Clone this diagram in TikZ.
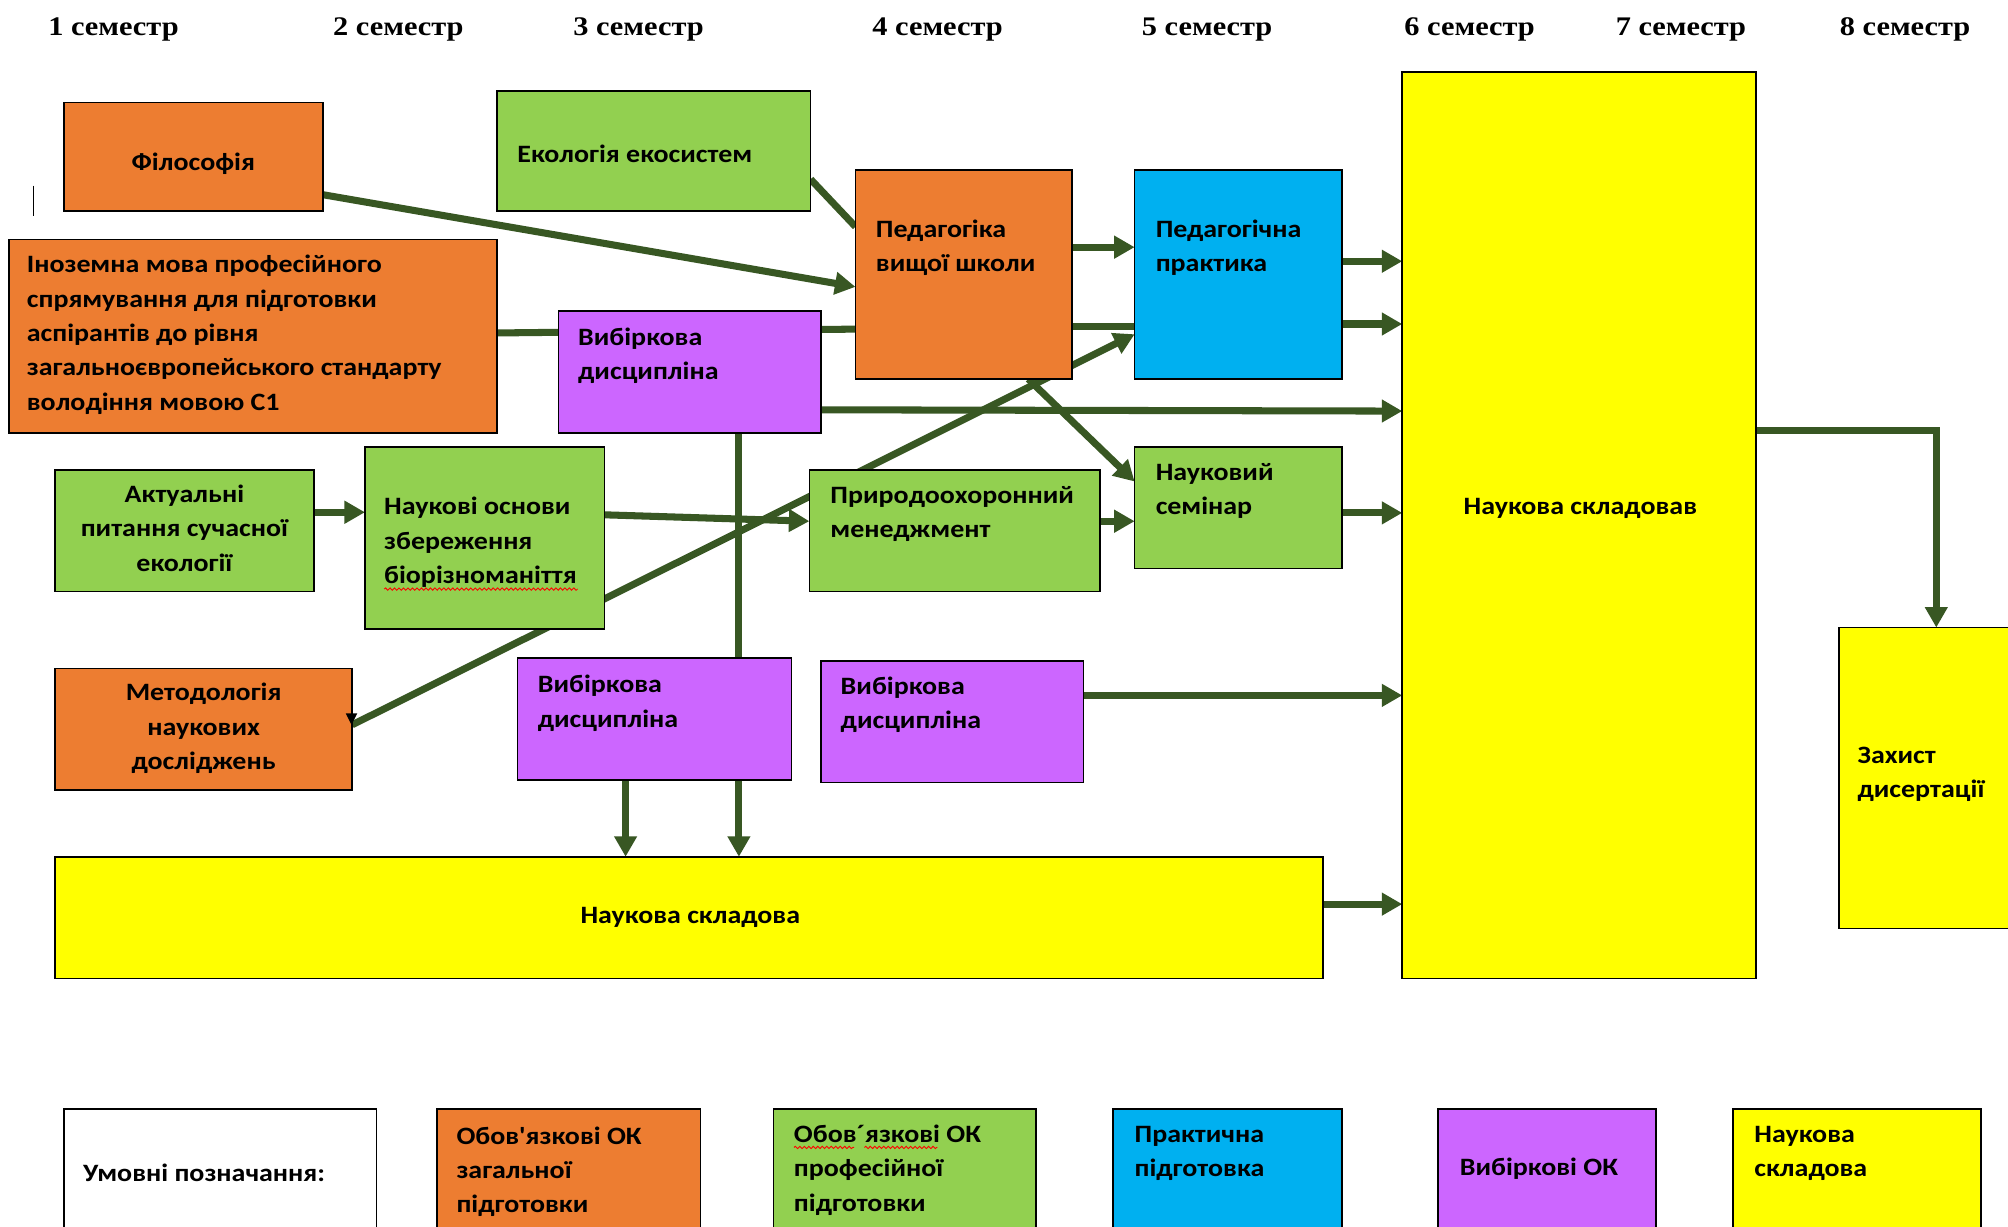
\documentclass[tikz,border=0pt]{standalone}
\usepackage{fontspec}
\newfontfamily\calfont{Carlito}[FakeStretch=1.12]
\newfontfamily\hdrfont{Liberation Serif}[FakeStretch=1.13]
\usetikzlibrary{arrows.meta,calc,backgrounds,decorations.pathmorphing}
\definecolor{orng}{HTML}{ED7D31}
\definecolor{grn}{HTML}{92D050}
\definecolor{purp}{HTML}{CC66FF}
\definecolor{blu}{HTML}{00B0F0}
\definecolor{yel}{HTML}{FFFF00}
\definecolor{lgreen}{HTML}{385723}
\begin{document}
\begin{tikzpicture}[x=1pt,y=-1pt,
  box/.style={draw=black, line width=1.3pt, inner sep=0pt, outer sep=0pt, anchor=north west},
  txt/.style={inner sep=0pt, outer sep=0pt, align=left, anchor=north west,
     font=\calfont\bfseries\fontsize{19.5}{26.8}\selectfont},
  ctxt/.style={txt, align=center, anchor=north},
  conn/.style={draw=lgreen, line width=5.5pt},
  arr/.style={conn, -{Triangle[length=16pt,width=17pt]}},
  hdr/.style={inner sep=0pt, anchor=base west, font=\hdrfont\bfseries\fontsize{21}{25}\selectfont},
  squig/.style={draw=red, line width=0.7pt, decorate, decoration={snake, amplitude=0.9pt, segment length=3.5pt}}]
\useasboundingbox (0,0) rectangle (1568,958);
\clip (0,0) rectangle (1568,958);
% headers
\node[hdr] (s1) at (37.5,28.1) {1 семестр};
\node[hdr] (s2) at (260,28.1) {2 семестр};
\node[hdr] (s3) at (447.5,28.1) {3 семестр};
\node[hdr] (s4) at (681,28.1) {4 семестр};
\node[hdr] (s5) at (891.5,28.1) {5 семестр};
\node[hdr] (s6) at (1096.5,28.1) {6 семестр};
\node[hdr] (s7) at (1261.5,28.1) {7 семестр};
\node[hdr] (s8) at (1436.5,28.1) {8 семестр};
% boxes
\node[box, fill=orng, minimum width=202pt, minimum height=85pt] (filo) at (50,80) {};
\node[box, fill=grn, minimum width=245pt, minimum height=94pt] (ecol) at (388,71) {};
\node[box, fill=orng, minimum width=381pt, minimum height=151pt] (inoz) at (7,187) {};
\node[box, fill=purp, minimum width=205pt, minimum height=95pt] (vyb1) at (436,243) {};
\node[box, fill=orng, minimum width=169pt, minimum height=163pt] (ped) at (668,133) {};
\node[box, fill=blu, minimum width=162pt, minimum height=163pt] (prak) at (886,133) {};
\node[box, fill=grn, minimum width=202pt, minimum height=95pt] (aktu) at (43,367) {};
\node[box, fill=grn, minimum width=187pt, minimum height=142pt] (osn) at (285,349) {};
\node[box, fill=grn, minimum width=227pt, minimum height=95pt] (pryr) at (632,367) {};
\node[box, fill=grn, minimum width=162pt, minimum height=95pt] (semi) at (886,349) {};
\node[box, fill=orng, minimum width=232pt, minimum height=95pt] (metod) at (43,522) {};
\node[box, fill=purp, minimum width=214pt, minimum height=95pt] (vyb2) at (404,514) {};
\node[box, fill=purp, minimum width=205pt, minimum height=95pt] (vyb3) at (641,516) {};
\node[box, fill=yel, minimum width=990pt, minimum height=95pt] (nauk1) at (43,669) {};
\node[box, fill=yel, minimum width=276pt, minimum height=708pt] (nauk2) at (1095,56) {};
\node[box, fill=yel, minimum width=200pt, minimum height=235pt] (zah) at (1436,490) {};
\node[box, fill=white, minimum width=244pt, minimum height=120pt] (lg0) at (50,866) {};
\node[box, fill=orng, minimum width=206pt, minimum height=120pt] (lg1) at (341,866) {};
\node[box, fill=grn, minimum width=205pt, minimum height=120pt] (lg2) at (604,866) {};
\node[box, fill=blu, minimum width=179pt, minimum height=120pt] (lg3) at (869,866) {};
\node[box, fill=purp, minimum width=170pt, minimum height=120pt] (lg4) at (1123,866) {};
\node[box, fill=yel, minimum width=194pt, minimum height=120pt] (lg5) at (1353,866) {};
% texts
\node[ctxt] (tfilo) at (151,114.2) {\strut Філософія};
\node[txt] (tecol) at (404,108.2) {\strut Екологія екосистем};
\node[txt] (tinoz) at (21,194.2) {\strut Іноземна мова професійного\\спрямування для підготовки\\аспірантів до рівня\\загальноєвропейського стандарту\\володіння мовою С1};
\node[txt] (tvyb1) at (451.5,250.7) {\strut Вибіркова\\дисципліна};
\node[txt] (tped) at (684,166.8) {\strut Педагогіка\\вищої школи};
\node[txt] (tprak) at (902.5,166.8) {\strut Педагогічна\\практика};
\node[ctxt] (taktu) at (144,373.7) {\strut Актуальні\\питання сучасної\\екології};
\node[txt] (tosn) at (300,383.2) {\strut Наукові основи\\збереження\\біорізноманіття};
\node[txt] (tpryr) at (648.5,374.5) {\strut Природоохоронний\\менеджмент};
\node[txt] (tsemi) at (902.5,356.2) {\strut Науковий\\семінар};
\node[ctxt] (tmetod) at (159,528.6) {\strut Методологія\\наукових\\досліджень};
\node[txt] (tvyb2) at (420,522.2) {\strut Вибіркова\\дисципліна};
\node[txt] (tvyb3) at (656.5,523.2) {\strut Вибіркова\\дисципліна};
\node[ctxt] (tnauk1) at (539,702.2) {\strut Наукова складова};
\node[ctxt] (tnauk2) at (1234,383.2) {\strut Наукова складовав};
\node[txt] (tzah) at (1450.5,577.2) {\strut Захист\\дисертації};
\node[txt] (tlg0) at (65,904) {\strut Умовні позначання:};
\node[txt] (tlg1) at (356.5,874.8) {\strut Обов'язкові ОК\\загальної\\підготовки};
\node[txt] (tlg2) at (620,873.5) {\strut Обов´язкові ОК\\професійної\\підготовки};
\node[txt] (tlg3) at (886,873.5) {\strut Практична\\підготовка};
\node[txt] (tlg4) at (1140,899.5) {\strut Вибіркові ОК};
\node[txt] (tlg5) at (1370,873.2) {\strut Наукова\\складова};
% spell-check squiggles and cursor mark
\draw[squig] (300,460) -- (451,460);
\draw[squig] (620,896) -- (667,896);
\draw[squig] (675,896) -- (732,896);
\draw[line width=1pt] (26,145) -- (26,169);
\fill[black] ($(metod.north east)+(-5,35)$) -- ++(9,0) -- ++(-4.5,9) -- cycle;
% connectors
\begin{scope}[on background layer]
\fill[white] (0,0) rectangle (1568,958);
\draw[arr] ($(filo.north east)+(0,72)$) -- ($(ped.north west)+(0,91)$);
\draw[conn] ($(ecol.north east)+(0,69)$) -- ($(ped.north west)+(0,44)$);
\draw[conn] ($(inoz.north east)+(0,73)$) -- ($(ped.north west)+(0,124)$);
\draw[arr] ($(ped.north east)+(0,60)$) -- ($(prak.north west)+(0,60)$);
\draw[conn] ($(ped.north east)+(0,122)$) -- ($(prak.north west)+(0,122)$);
\draw[arr] ($(metod.north east)+(0,44)$) -- ($(prak.north west)+(0,128)$);
\draw[arr] ($(ped.south west)+(135,0)$) -- ($(semi.north west)+(0,27)$);
\draw[arr] ($(vyb1.north east)+(0,77)$) -- ($(nauk2.north west)+(0,265)$);
\draw[arr] ($(prak.north east)+(0,71)$) -- ($(nauk2.north west)+(0,148)$);
\draw[arr] ($(prak.north east)+(0,120)$) -- ($(nauk2.north west)+(0,197)$);
\draw[arr] ($(semi.north east)+(0,51.5)$) -- ($(nauk2.north west)+(0,344.5)$);
\draw[arr] ($(vyb3.north east)+(0,27)$) -- ($(nauk2.north west)+(0,487)$);
\draw[arr] ($(nauk1.north east)+(0,37)$) -- ($(nauk2.north west)+(0,650)$);
\draw[arr] ($(nauk2.north east)+(0,280.5)$) -| ($(zah.north west)+(76,0)$);
\draw[arr] ($(aktu.north east)+(0,33)$) -- ($(osn.north west)+(0,51)$);
\draw[arr] ($(osn.north east)+(0,53)$) -- ($(pryr.north west)+(0,40)$);
\draw[arr] ($(pryr.north east)+(0,40)$) -- ($(semi.north west)+(0,58)$);
\draw[arr] ($(vyb1.south west)+(141,0)$) -- ($(nauk1.north west)+(534,0)$);
\draw[arr] ($(vyb2.south west)+(84.5,0)$) -- ($(nauk1.north west)+(445.5,0)$);
\end{scope}
\end{tikzpicture}
\end{document}
